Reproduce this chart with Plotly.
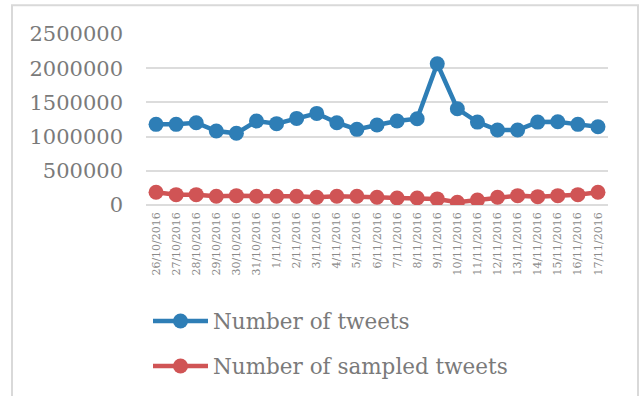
import plotly.graph_objects as go

# Daily counts, 26 Oct – 17 Nov 2016
dates = ["26/10/2016", "27/10/2016", "28/10/2016", "29/10/2016", "30/10/2016",
         "31/10/2016", "1/11/2016", "2/11/2016", "3/11/2016", "4/11/2016",
         "5/11/2016", "6/11/2016", "7/11/2016", "8/11/2016", "9/11/2016",
         "10/11/2016", "11/11/2016", "12/11/2016", "13/11/2016", "14/11/2016",
         "15/11/2016", "16/11/2016", "17/11/2016"]
tweets = [1179000, 1179000, 1203000, 1081000, 1048000, 1227000, 1189000,
          1266000, 1339000, 1203000, 1106000, 1169000, 1227000, 1262000,
          2065000, 1407000, 1212000, 1096000, 1096000, 1212000, 1218000,
          1179000, 1145000]
sampled = [186000, 151000, 151000, 128000, 137000, 128000, 128000, 128000,
           113000, 128000, 128000, 113000, 103000, 103000, 89000, 41000,
           74000, 113000, 137000, 122000, 137000, 151000, 186000]
y_ticks = [0, 500000, 1000000, 1500000, 2000000, 2500000]

BLUE = "#2E7EB6"
RED = "#D05455"
GRAY_TEXT = "#7a7a7a"
GRID = "#dcdcdc"
FONT = "DejaVu Serif"

W, H = 641, 396
ML, MR, MT, MB = 146, 33, 34, 190
PW, PH = W - ML - MR, H - MT - MB


def px_x(p):
    return (p - ML) / PW


def px_y(p):
    return (H - MB - p) / PH


fig = go.Figure()
fig.add_trace(go.Scatter(
    x=dates, y=tweets, mode="lines+markers", name="Number of tweets",
    line=dict(color=BLUE, width=4.5), marker=dict(color=BLUE, size=15),
    legend="legend", showlegend=True,
))
fig.add_trace(go.Scatter(
    x=dates, y=sampled, mode="lines+markers", name="Number of sampled tweets",
    line=dict(color=RED, width=4.5), marker=dict(color=RED, size=15),
    legend="legend2", showlegend=True,
))

legend_common = dict(
    xanchor="left", yanchor="middle", bgcolor="rgba(0,0,0,0)",
    font=dict(family=FONT, size=21.5, color=GRAY_TEXT), itemwidth=55,
    visible=True,
)

fig.update_layout(
    width=W, height=H,
    margin=dict(l=ML, r=MR, t=MT, b=MB),
    paper_bgcolor="white", plot_bgcolor="white",
    font=dict(family=FONT, color=GRAY_TEXT),
    showlegend=True,
    xaxis=dict(
        type="category", range=[-0.5, len(dates) - 0.5],
        tickangle=-90, tickfont=dict(size=11, color="#8a8a8a"),
        showgrid=False, zeroline=False, showline=False, ticks="",
        ticklabelstandoff=4,
    ),
    yaxis=dict(
        range=[0, 2500000], tickvals=y_ticks,
        ticktext=[str(v) for v in y_ticks],
        tickfont=dict(size=21, color=GRAY_TEXT),
        showgrid=True, gridcolor=GRID, gridwidth=2,
        zeroline=True, zerolinecolor=GRID, zerolinewidth=2,
        showline=False, ticks="", ticklabelstandoff=22,
    ),
    legend=dict(x=px_x(148), y=px_y(321), **legend_common),
    legend2=dict(x=px_x(148), y=px_y(366), **legend_common),
    shapes=[dict(
        type="rect", xref="paper", yref="paper",
        x0=px_x(12), x1=px_x(638), y0=px_y(402), y1=px_y(5),
        line=dict(color="#d9d9d9", width=2), layer="below",
    )],
)

fig.write_html("out.html")
